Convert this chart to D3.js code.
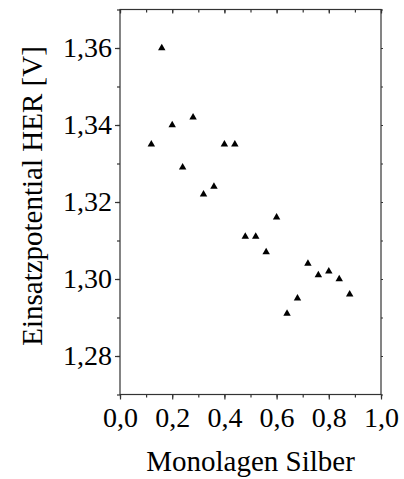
<!DOCTYPE html>
<html><head><meta charset="utf-8">
<script src="https://cdn.jsdelivr.net/npm/d3@7"></script>
<style>body{margin:0;background:#fff}svg{display:block}</style>
</head><body>
<svg id="c" width="404" height="479"></svg>
<script>
const monolayers = [0.12,0.16,0.20,0.24,0.28,0.32,0.36,0.40,0.44,0.48,0.52,0.56,0.60,0.64,0.68,0.72,0.76,0.80,0.84,0.88];
const onsetPotential = [1.335,1.360,1.340,1.329,1.342,1.322,1.324,1.335,1.335,1.311,1.311,1.307,1.316,1.291,1.295,1.304,1.301,1.302,1.300,1.296];
const xTicks = [0,0.2,0.4,0.6,0.8,1.0];
const yTicks = [1.28,1.30,1.32,1.34,1.36];
const xTitle = "Monolagen Silber";
const yTitle = "Einsatzpotential HER [V]";

const FONT = '"Liberation Serif","Times New Roman",serif';
const svg = d3.select("#c");
const L=120, R=381, T=9.5, B=394.5;
const x = d3.scaleLinear().domain([0,1]).range([L,R]);
const y = d3.scaleLinear().domain([1.27,1.37]).range([B,T]);
const fmtX = d => d3.format(".1f")(d).replace(".",",");
const fmtY = d => d3.format(".2f")(d).replace(".",",");
const xMinor = d3.range(0,1.0001,0.1);
const yMinor = d3.range(1.27,1.3701,0.01);
const axCol = "#333";

svg.append("rect").attr("x",L).attr("y",T).attr("width",R-L).attr("height",B-T)
  .attr("fill","none").attr("stroke",axCol).attr("stroke-width",1.2);

function styleAxis(g){
  g.select(".domain").remove();
  g.selectAll(".tick line").attr("stroke",axCol).attr("stroke-width",1.2);
  g.selectAll(".tick text").style("font-family",FONT).style("font-size","28px").attr("fill","#000");
}
const gb = svg.append("g").attr("transform",`translate(0,${B})`)
  .call(d3.axisBottom(x).tickValues(xTicks).tickFormat(fmtX).tickSize(5).tickPadding(8));
styleAxis(gb);
svg.append("g").attr("transform",`translate(0,${B})`)
  .call(d3.axisBottom(x).tickValues(xMinor).tickFormat("").tickSize(3)).call(styleAxis);
svg.append("g").attr("transform",`translate(0,${T})`)
  .call(d3.axisBottom(x).tickValues(xTicks).tickFormat("").tickSize(4)).call(styleAxis);
svg.append("g").attr("transform",`translate(0,${T})`)
  .call(d3.axisBottom(x).tickValues(xMinor).tickFormat("").tickSize(3)).call(styleAxis);
const gl = svg.append("g").attr("transform",`translate(${L},0)`)
  .call(d3.axisLeft(y).tickValues(yTicks).tickFormat(fmtY).tickSize(5).tickPadding(3));
styleAxis(gl);
svg.append("g").attr("transform",`translate(${L},0)`)
  .call(d3.axisLeft(y).tickValues(yMinor).tickFormat("").tickSize(3)).call(styleAxis);
svg.append("g").attr("transform",`translate(${R},0)`)
  .call(d3.axisRight(y).tickValues(yMinor).tickFormat("").tickSize(2)).call(styleAxis);

svg.append("text").attr("x",(L+R)/2).attr("y",471).attr("text-anchor","middle")
  .style("font-family",FONT).style("font-size","29px").text(xTitle);
svg.append("text").attr("transform",`translate(42,196) rotate(-90)`)
  .attr("text-anchor","middle").style("font-family",FONT).style("font-size","29px").text(yTitle);

svg.append("g").selectAll("path").data(monolayers).join("path")
  .attr("transform",(d,i)=>`translate(${x(d)},${y(onsetPotential[i])})`)
  .attr("d",d3.symbol(d3.symbolTriangle,24)).attr("fill","#000");
</script>
</body></html>
